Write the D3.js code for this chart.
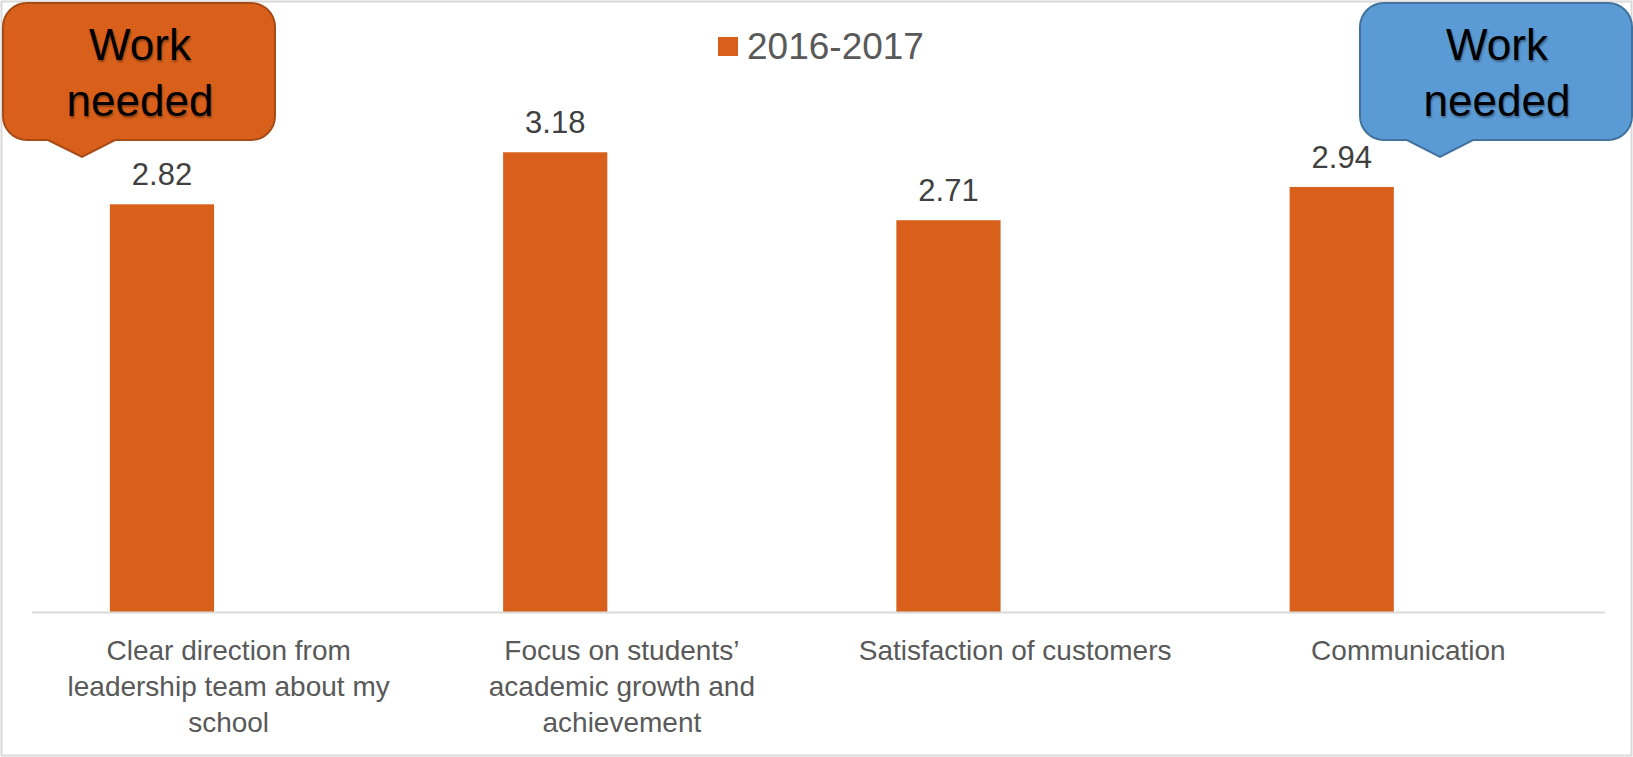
<!DOCTYPE html>
<html>
<head>
<meta charset="utf-8">
<script src="https://cdn.jsdelivr.net/npm/d3@7"></script>
<style>
  body { margin: 0; background: #fff; }
  svg { display: block; font-family: "Liberation Sans", Arial, sans-serif; }
  .callout-text { text-shadow: 1px 2px 2px rgba(0,0,0,0.35); }
</style>
</head>
<body>
<svg id="chart"></svg>
<script>
// Chart data
const categories = [
  'Clear direction from leadership team about my school',
  'Focus on students’ academic growth and achievement',
  'Satisfaction of customers',
  'Communication'
];
// wrapped tick labels, as they appear under the axis
const tickLabels = [
  ['Clear direction from', 'leadership team about my', 'school'],
  ['Focus on students’', 'academic growth and', 'achievement'],
  ['Satisfaction of customers'],
  ['Communication']
];
const seriesName = '2016-2017';
const values = [2.82, 3.18, 2.71, 2.94];

// Callout shapes laid over the chart
const calloutTexts = [['Work', 'needed'], ['Work', 'needed']];
const calloutFills = ['#D9601B', '#5B9BD5'];
const calloutStrokes = ['#A64A16', '#41719C'];

const width = 1633, height = 757;
const margin = { top: 106, right: 28, bottom: 145, left: 32 };
const barColor = '#D9601B';

const svg = d3.select('#chart')
  .attr('width', width)
  .attr('height', height);

// Chart frame
svg.append('rect')
  .attr('x', 1.5).attr('y', 1.5)
  .attr('width', width - 3).attr('height', height - 3)
  .attr('fill', '#fff')
  .attr('stroke', '#D9D9D9')
  .attr('stroke-width', 2);

// Scales
const x = d3.scaleBand()
  .domain(categories)
  .range([margin.left, width - margin.right]);

const y = d3.scaleLinear()
  .domain([0, 3.5])
  .range([height - margin.bottom, margin.top]);

// bars sit at the left slot of each category group
const barOffset = x.bandwidth() * 0.198;
const barWidth = x.bandwidth() * 0.265;

// Bars
svg.selectAll('rect.bar')
  .data(values)
  .enter()
  .append('rect')
  .attr('class', 'bar')
  .attr('x', (d, i) => x(categories[i]) + barOffset)
  .attr('y', d => y(d))
  .attr('width', barWidth)
  .attr('height', d => y(0) - y(d))
  .attr('fill', barColor);

// Value labels
svg.selectAll('text.value')
  .data(values)
  .enter()
  .append('text')
  .attr('class', 'value')
  .attr('x', (d, i) => x(categories[i]) + barOffset + barWidth / 2)
  .attr('y', d => y(d) - 19)
  .attr('text-anchor', 'middle')
  .attr('fill', '#404040')
  .style('font-size', '31px')
  .text(d => d.toFixed(2));

// X axis line
svg.append('line')
  .attr('x1', margin.left).attr('x2', width - margin.right)
  .attr('y1', y(0) + 0.5).attr('y2', y(0) + 0.5)
  .attr('stroke', '#D9D9D9')
  .attr('stroke-width', 2);

// Category labels
const tickGroup = svg.append('g');
tickLabels.forEach((lines, i) => {
  const t = tickGroup.append('text')
    .attr('x', x(categories[i]) + x.bandwidth() / 2)
    .attr('y', y(0) + 48)
    .attr('text-anchor', 'middle')
    .attr('fill', '#595959')
    .style('font-size', '28px');
  lines.forEach((line, j) => {
    t.append('tspan')
      .attr('x', x(categories[i]) + x.bandwidth() / 2)
      .attr('dy', j === 0 ? 0 : 36)
      .text(line);
  });
});

// Legend
const legend = svg.append('g').attr('transform', 'translate(718,37)');
legend.append('rect')
  .attr('width', 20).attr('height', 19)
  .attr('fill', barColor);
legend.append('text')
  .attr('x', 29).attr('y', 22)
  .attr('fill', '#595959')
  .style('font-size', '37px')
  .text(seriesName);

// Callouts: rounded box with a pointer underneath
function calloutPath(x0, y0, w, h, r, px1, px2, tipX, tipY) {
  const p = d3.path();
  p.moveTo(x0 + r, y0);
  p.lineTo(x0 + w - r, y0);
  p.arcTo(x0 + w, y0, x0 + w, y0 + r, r);
  p.lineTo(x0 + w, y0 + h - r);
  p.arcTo(x0 + w, y0 + h, x0 + w - r, y0 + h, r);
  p.lineTo(px2, y0 + h);
  p.lineTo(tipX, tipY);
  p.lineTo(px1, y0 + h);
  p.lineTo(x0 + r, y0 + h);
  p.arcTo(x0, y0 + h, x0, y0 + h - r, r);
  p.lineTo(x0, y0 + r);
  p.arcTo(x0, y0, x0 + r, y0, r);
  p.closePath();
  return p.toString();
}

const calloutBoxes = [
  { x0: 3, px1: 48, px2: 115, tipX: 82 },
  { x0: 1360, px1: 1407, px2: 1473, tipX: 1440 }
];

calloutBoxes.forEach((b, i) => {
  const g = svg.append('g');
  g.append('path')
    .attr('d', calloutPath(b.x0, 3, 272, 137, 24, b.px1, b.px2, b.tipX, 157))
    .attr('fill', calloutFills[i])
    .attr('stroke', calloutStrokes[i])
    .attr('stroke-width', 2);
  const t = g.append('text')
    .attr('class', 'callout-text')
    .attr('text-anchor', 'middle')
    .attr('fill', '#000')
    .style('font-size', '44px');
  calloutTexts[i].forEach((line, j) => {
    t.append('tspan')
      .attr('x', b.x0 + 137)
      .attr('y', 60 + j * 56)
      .text(line);
  });
});
</script>
</body>
</html>
